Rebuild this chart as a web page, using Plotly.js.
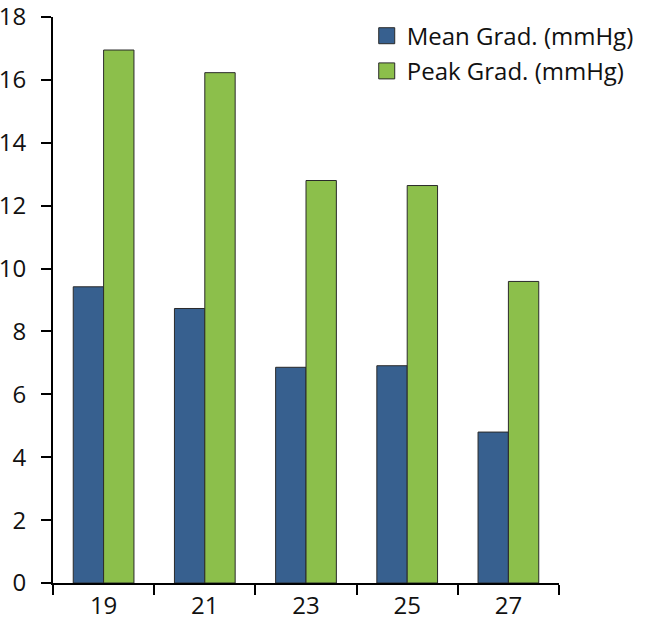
<!DOCTYPE html>
<html>
<head>
<meta charset="utf-8">
<script src="https://cdn.plot.ly/plotly-3.0.1.min.js"></script>
<style>html,body{margin:0;padding:0;background:#fff;}#chart{width:656px;height:635px;}</style>
</head>
<body>
<div id="chart"></div>
<script>
const categories = ["19", "21", "23", "25", "27"];
const meanGrad = [9.42, 8.73, 6.86, 6.91, 4.80];
const peakGrad = [16.95, 16.23, 12.80, 12.64, 9.59];
const seriesNames = ["Mean Grad. (mmHg)", "Peak Grad. (mmHg)"];
const yTicks = [0, 2, 4, 6, 8, 10, 12, 14, 16, 18];

const blue = "#37608f";
const green = "#8cbf4b";
const edge = "#2a2a2a";
const fontFam = "'Open Sans', Lato, sans-serif";

const traces = [
  {type: "bar", x: categories, y: meanGrad, name: seriesNames[0], showlegend: false,
   marker: {color: blue, line: {color: edge, width: 1}}},
  {type: "bar", x: categories, y: peakGrad, name: seriesNames[1], showlegend: false,
   marker: {color: green, line: {color: edge, width: 1}}},
  {type: "scatter", mode: "markers", x: [null], y: [null], name: seriesNames[0], legendgroup: "a",
   marker: {symbol: "square", size: 16, color: blue, line: {color: edge, width: 1}}},
  {type: "scatter", mode: "markers", x: [null], y: [null], name: seriesNames[1], legendgroup: "b",
   marker: {symbol: "square", size: 16, color: green, line: {color: edge, width: 1}}}
];

const layout = {
  width: 656, height: 635,
  margin: {l: 53, r: 97, t: 17, b: 52},
  paper_bgcolor: "#fff", plot_bgcolor: "#fff",
  font: {family: fontFam, color: "#111", size: 24},
  barmode: "group", bargap: 0.4, bargroupgap: 0,
  showlegend: true,
  legend: {x: 0.62, y: 1.006, xanchor: "left", yanchor: "top",
           font: {size: 24, family: fontFam, color: "#111"},
           traceorder: "grouped", tracegroupgap: 1, bgcolor: "rgba(0,0,0,0)"},
  xaxis: {type: "category", tickson: "boundaries", ticks: "outside", ticklen: 10, tickwidth: 2,
          tickcolor: "#000", showline: true, linecolor: "#000", linewidth: 2,
          showgrid: false, zeroline: false, tickfont: {size: 24, family: fontFam, color: "#111"}},
  yaxis: {range: [0, 18], tickvals: yTicks, ticktext: yTicks.map(String), ticks: "outside",
          ticklen: 10, tickwidth: 2, tickcolor: "#000", showline: true, linecolor: "#000",
          linewidth: 2, showgrid: false, zeroline: false, ticklabelstandoff: 10,
          ticklabeloverflow: "allow",
          tickfont: {size: 24, family: fontFam, color: "#111"}}
};

Plotly.newPlot("chart", traces, layout, {displayModeBar: false, staticPlot: true});
</script>
</body>
</html>
